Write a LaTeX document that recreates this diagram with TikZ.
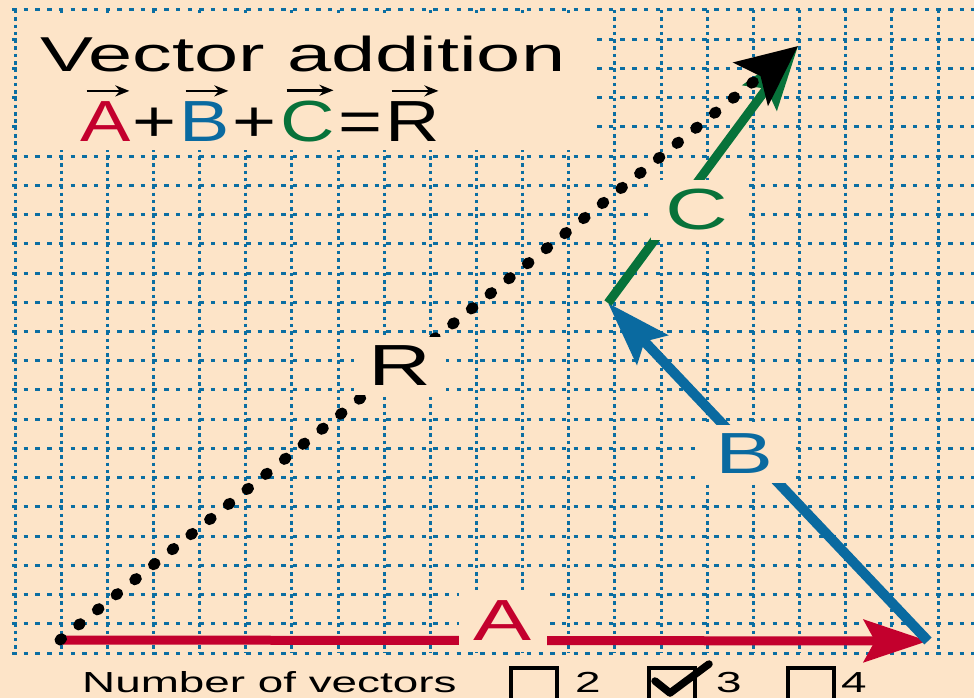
\documentclass[tikz,border=0pt]{standalone}
\usepackage{fontspec}
\usepackage{graphicx}
\setmainfont{Liberation Sans}
\usetikzlibrary{arrows.meta,calc}

\definecolor{paper}{HTML}{FDE4C8}
\definecolor{gridblue}{HTML}{0B6EA2}
\definecolor{vecred}{HTML}{C3002D}
\definecolor{vecblue}{HTML}{0A6AA0}
\definecolor{vecgreen}{HTML}{07723A}

% letters of the original are drawn wide
\newcommand{\wide}[2]{\scalebox{#1}[1]{#2}}

\tikzset{
  hgrid/.style={gridblue, line width=3pt, dash pattern=on 4.5pt off 7.2pt},
  vgrid/.style={gridblue, line width=3pt, dash pattern=on 3.5pt off 3.8pt},
  vec/.style={line width=9pt, -{Stealth[length=64pt,width=42pt,inset=11pt]}},
  rvec/.style={line width=11pt, line cap=round, dash pattern=on 2pt off 22pt,
    -{Stealth[length=60pt,width=54pt,inset=12pt]}},
  veclabel/.style={fill=paper, inner xsep=15pt, inner ysep=9pt, font=\fontsize{58}{60}\selectfont},
  formula/.style={inner sep=0pt, anchor=base, font=\fontsize{58}{60}\selectfont},
  overarrow/.style={line width=2.6pt, -{Stealth[length=14pt,width=11pt]}},
  chkbox/.style={draw, line width=4.5pt, minimum width=46pt, minimum height=44pt, inner sep=0pt},
  legend/.style={inner sep=0pt, anchor=base west, font=\fontsize{29}{30}\selectfont},
}

\begin{document}
\begin{tikzpicture}[x=1pt, y=-1pt]
        \useasboundingbox (0,0) rectangle (974,698);
        \clip (0,0) rectangle (974,698);
        \fill[paper] (0,0) rectangle (974,698);

        % graph paper
        \foreach \i in {0,...,20}
            \draw[vgrid] ({15+46.15*\i},10) -- ({15+46.15*\i},653);
        \foreach \j in {0,...,22}
            \draw[hgrid] (12,{10+29.23*\j}) -- (974,{10+29.23*\j});
        \fill[paper] (20,17) rectangle (593,150);

        % title and formula
        \node[inner sep=0pt, anchor=base west, font=\fontsize{49}{50}\selectfont] (title) at (40,72) {\wide{1.62}{Vector addition}};
        \node[formula, text=vecred] (fA) at (106,142) {\wide{1.3}{A}};
        \node[formula] (plus1) at (155,142) {\wide{1.3}{+}};
        \node[formula, text=vecblue] (fB) at (205,142) {\wide{1.3}{B}};
        \node[formula] (plus2) at (255,142) {\wide{1.3}{+}};
        \node[formula, text=vecgreen] (fC) at (308,142) {\wide{1.3}{C}};
        \node[formula] (eq) at (361,142) {\wide{1.3}{=}};
        \node[formula] (fR) at (413,142) {\wide{1.3}{R}};
        \foreach \v in {fA,fB,fC,fR}
            \draw[overarrow] ([xshift=6pt,yshift=11pt]\v.north west) -- ([xshift=-2pt,yshift=11pt]\v.north east);

        % the vectors
        \coordinate (O) at (60,640);
        \coordinate (P) at (928,641);
        \coordinate (Q) at (608,303);
        \coordinate (S) at (798,46);
        \draw[vec, vecred] (O) -- (P);
        \draw[vec, vecblue, line width=10pt] (P) -- (Q);
        \draw[vec, vecgreen] (Q) -- (S);
        \draw[rvec] (O) -- (S);

        \node[veclabel, text=vecred] (labA) at (503,621) {\wide{1.5}{A}};
        \node[veclabel, text=vecblue] (labB) at (745,454) {\wide{1.5}{B}};
        \node[veclabel, text=vecgreen] (labC) at (697,210) {\wide{1.5}{C}};
        \node[veclabel] (labR) at (400,366) {\wide{1.5}{R}};

        % legend
        \node[legend] (count) at (82,692) {\wide{1.58}{Number of vectors}};
        \node[chkbox] (box2) at (534,690) {};
        \node[legend] (n2) at (575,692) {\wide{1.58}{2}};
        \node[chkbox] (box3) at (672,690) {};
        \node[legend] (n3) at (716,692) {\wide{1.58}{3}};
        \node[chkbox] (box4) at (811,690) {};
        \node[legend] (n4) at (841,692) {\wide{1.58}{4}};
        \draw[line width=7.5pt, line join=round, line cap=round]
            ($(box3.center)+(-17,-9)$) -- ($(box3.center)+(-2,3)$) -- ($(box3.center)+(37,-26)$);
\end{tikzpicture}
\end{document}
